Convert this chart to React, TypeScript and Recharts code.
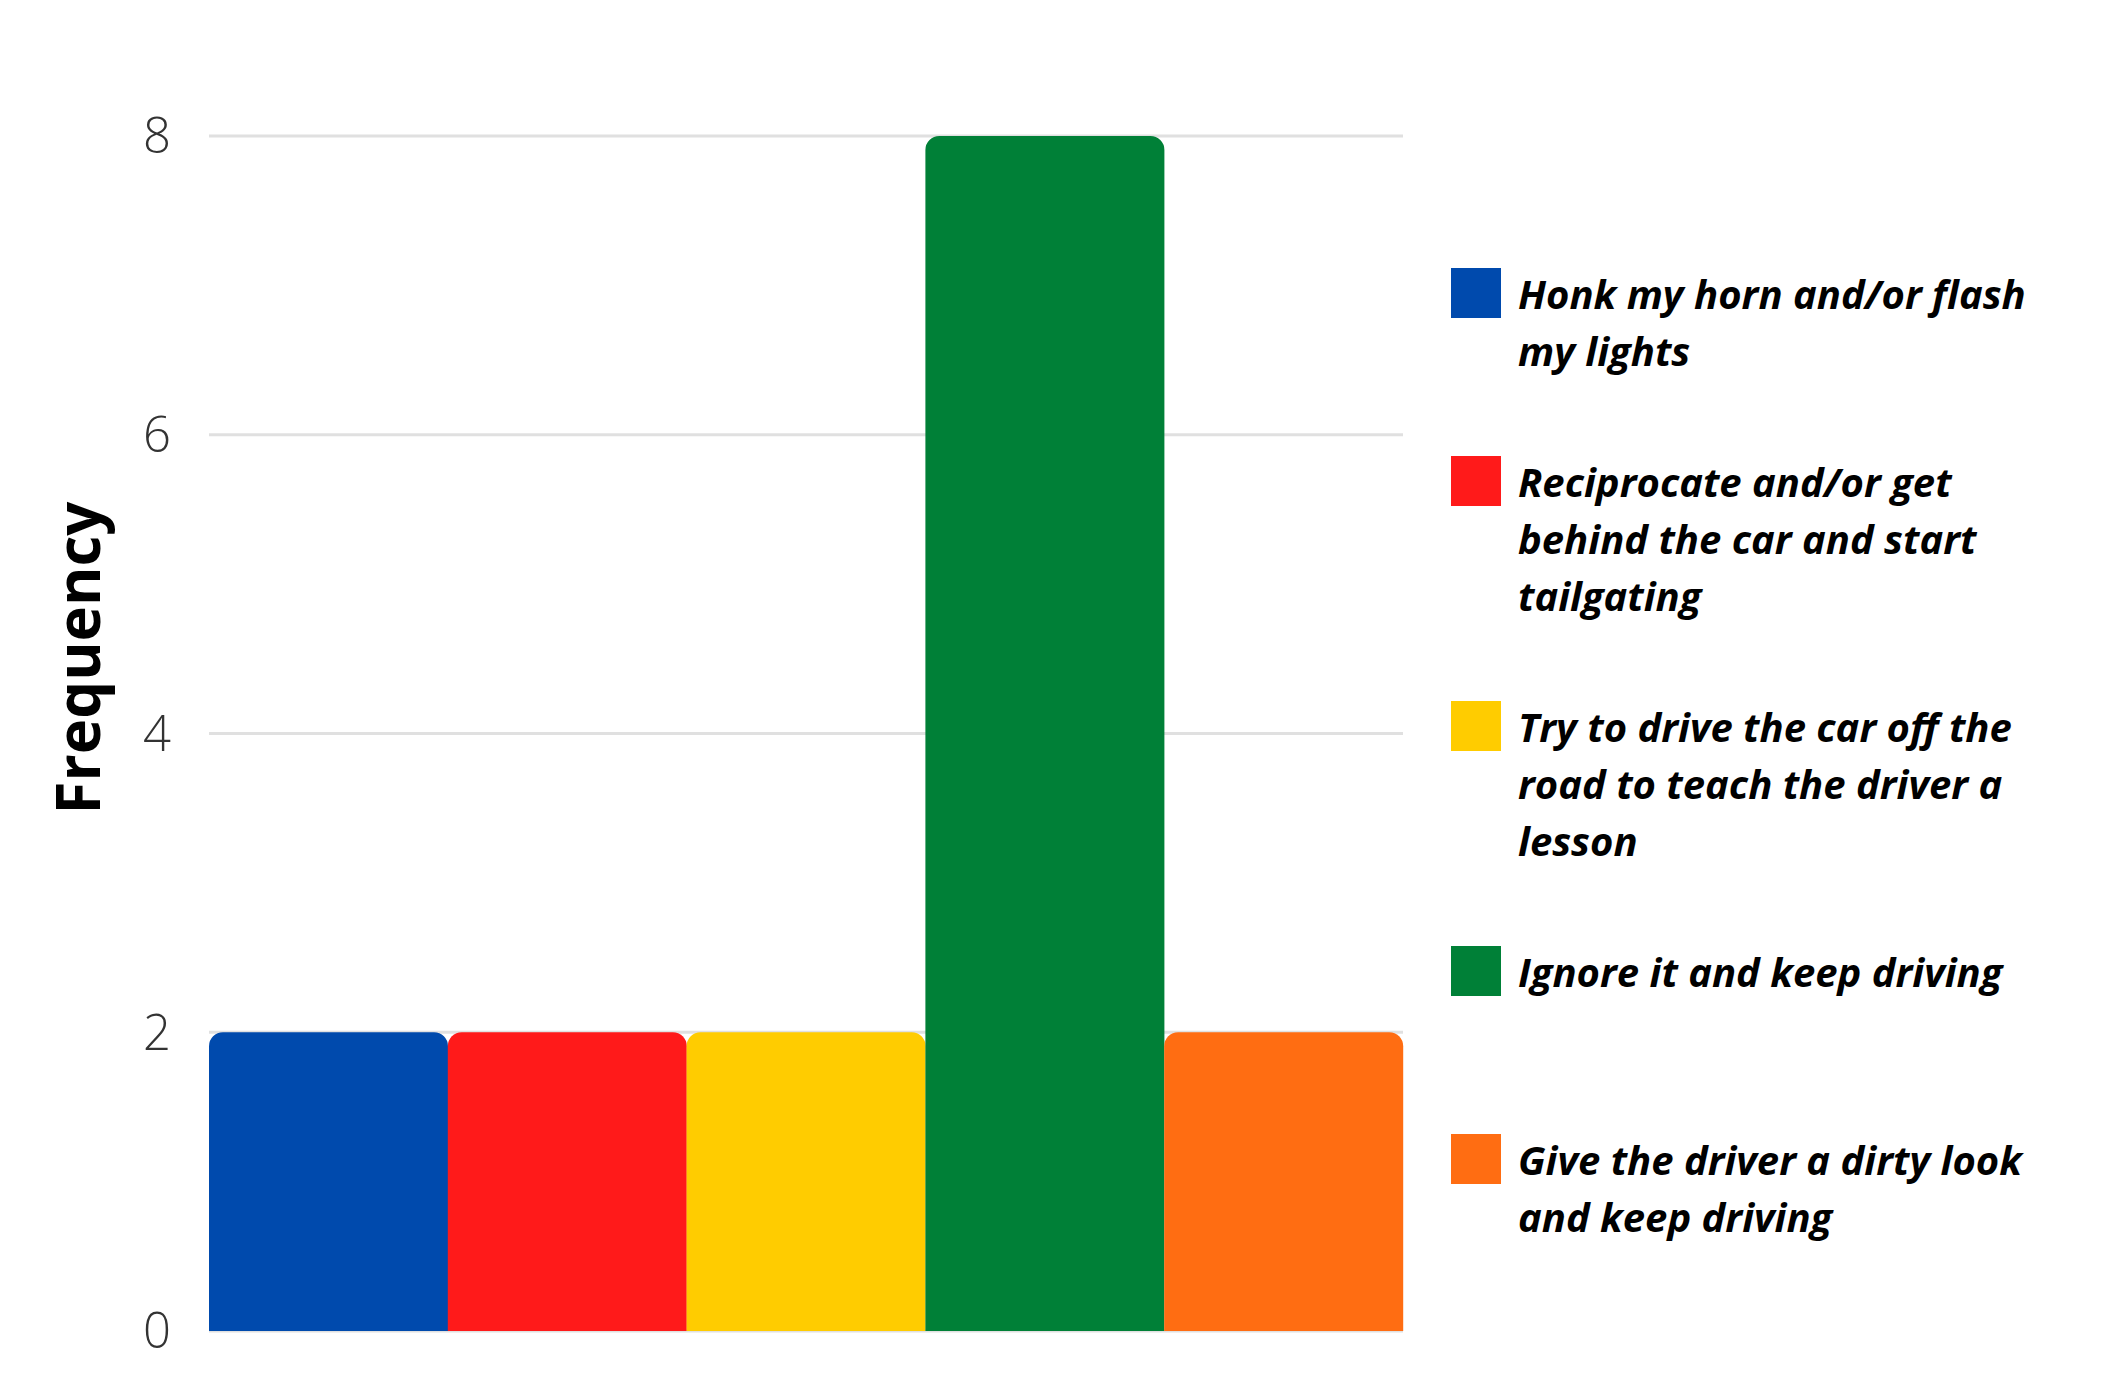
import React from 'react';
import { BarChart, Bar, XAxis, YAxis, CartesianGrid, Legend, Cell, Label } from 'recharts';

const categories = [
  'Honk my horn and/or flash my lights',
  'Reciprocate and/or get behind the car and start tailgating',
  'Try to drive the car off the road to teach the driver a lesson',
  'Ignore it and keep driving',
  'Give the driver a dirty look and keep driving',
];
const frequencies = [2, 2, 2, 8, 2];
const barColors = ['#004aad', '#ff1a1a', '#ffcc00', '#008037', '#ff6d12'];
const yTicks = [0, 2, 4, 6, 8];

const chartData = categories.map((name, i) => ({ name, value: frequencies[i] }));

const FONT = '"Open Sans", sans-serif';

const LegendList = () => (
  <div style={{ fontFamily: FONT }}>
    {categories.map((name, i) => (
      <div key={name} style={{ display: 'flex', alignItems: 'flex-start', minHeight: 114, marginBottom: 74 }}>
        <div style={{ width: 50, height: 50, marginTop: 3.5, background: barColors[i], flexShrink: 0 }} />
        <div
          style={{
            marginLeft: 17,
            width: 550,
            fontSize: 40,
            lineHeight: '57px',
            fontWeight: 700,
            fontStyle: 'italic',
            color: '#000',
          }}
        >
          {name}
        </div>
      </div>
    ))}
  </div>
);

const YLabel = (props: any) => {
  const vb = props.viewBox || {};
  const x = vb.x + 92;
  const y = 650;
  return (
    <text
      x={x}
      y={y}
      transform={`rotate(-90 ${x} ${y})`}
      textAnchor="middle"
      fontFamily={FONT}
      fontWeight={700}
      fontSize={60}
      fill="#000"
    >
      Frequency
    </text>
  );
};

const App: React.FC = () => {
  return (
    <BarChart
      width={2100}
      height={1380}
      data={chartData}
      barCategoryGap={0}
      margin={{ top: 128, right: 705, bottom: 57, left: 0 }}
    >
      <CartesianGrid vertical={false} stroke="#e0e0e0" strokeWidth={3} />
      <XAxis dataKey="name" hide />
      <YAxis
        width={201}
        domain={[0, 8]}
        ticks={yTicks}
        axisLine={false}
        tickLine={false}
        tickSize={0}
        tickMargin={38}
        tick={{ fill: '#333', fontSize: 49, fontWeight: 300, fontFamily: FONT }}
      >
        <Label content={<YLabel />} />
      </YAxis>
      <Legend
        layout="vertical"
        align="center"
        verticalAlign="middle"
        content={<LegendList />}
        wrapperStyle={{ left: 1443, top: 256.5, width: 640 }}
      />
      <Bar dataKey="value" radius={[14, 14, 0, 0]} isAnimationActive={false}>
        {chartData.map((d, i) => (
          <Cell key={d.name} fill={barColors[i]} />
        ))}
      </Bar>
    </BarChart>
  );
};

export default App;
